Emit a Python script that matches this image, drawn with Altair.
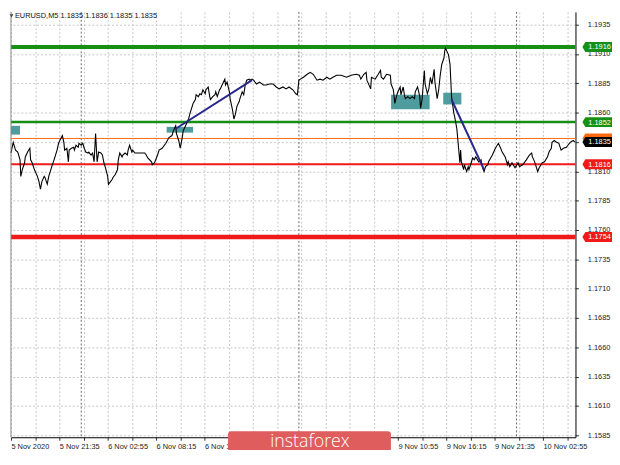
import altair as alt
import pandas as pd

W, H = 572, 431
FONT = "Liberation Sans"

# EURUSD M5 close, bar index counted from 5 Nov 2020 16:15
bars = [
    0, 3, 5, 6, 9, 12, 13, 15, 18, 19,
    22, 25, 26, 28, 31, 35, 37, 39, 41, 44,
    45, 48, 50, 52, 54, 57, 61, 63, 66, 68,
    70, 71, 74, 76, 77, 80, 83, 84, 86, 89,
    90, 93, 95, 97, 99, 102, 103, 106, 108, 110,
    112, 114, 116, 119, 121, 123, 125, 128, 129, 132,
    134, 135, 138, 141, 142, 144, 147, 148, 151, 154,
    155, 157, 160, 161, 164, 168, 173, 177, 179, 181,
    186, 187, 190,
    194, 196, 200, 205, 209, 213, 215, 218, 219, 222,
    224, 226, 228, 231, 235, 237, 239, 241, 244, 245,
    248, 250, 252, 254, 257, 258, 261, 263, 264, 267,
    270, 271, 273, 276, 277, 280, 283, 284, 286, 289,
    290, 293, 295, 297, 299, 302, 303, 306, 308, 310,
    312, 315, 316, 319, 321, 325, 329, 334, 338, 342,
    347, 351, 355, 360, 364, 368, 373, 377, 379, 381,
    383, 387, 392, 396, 400, 405, 409, 413, 418, 422,
    426, 431, 437, 444, 450, 457, 461, 463, 467, 470,
    471, 476, 477, 482, 486, 489, 490, 493, 497, 502,
    503, 506, 508, 510, 512, 515, 516, 519, 521, 522,
    525, 528, 531, 534, 535, 538, 541, 542, 544, 547,
    548, 551, 553, 555, 557, 560, 561, 564, 566, 568,
    570, 573, 574,
    575, 579, 581, 582, 583, 586, 587, 590, 592, 594,
    595, 596, 599, 600, 603, 605, 606, 609, 611, 613,
    615, 619, 622, 624, 626, 628, 631, 632, 637, 641,
    645, 648, 650, 654, 657, 658, 660, 663, 667, 671,
    673, 677, 682, 686, 689, 690, 693, 697, 699, 703,
    706, 710, 712, 715, 716, 719, 722, 725, 728, 731,
    735, 737, 740, 744, 746,
]
prices = [
    1.18256, 1.18347, 1.18305, 1.18281, 1.18264, 1.18198, 1.18057, 1.18115, 1.18173, 1.18223,
    1.18264, 1.18297, 1.18198, 1.18173, 1.18115, 1.18057, 1.18015, 1.17949, 1.18015, 1.18057,
    1.18048, 1.17990, 1.18057, 1.18098, 1.18140, 1.18198, 1.18281, 1.18339, 1.18380, 1.18405,
    1.18347, 1.18281, 1.18297, 1.18181, 1.18281, 1.18297, 1.18305, 1.18281, 1.18322, 1.18305,
    1.18339, 1.18322, 1.18339, 1.18297, 1.18264, 1.18256, 1.18264, 1.18239, 1.18256, 1.18181,
    1.18422, 1.18181, 1.18264, 1.18256, 1.18239, 1.18173, 1.18131, 1.18057, 1.17990, 1.18015,
    1.18032, 1.18048, 1.18073, 1.18115, 1.18198, 1.18256, 1.18223, 1.18239, 1.18256, 1.18239,
    1.18281, 1.18322, 1.18264, 1.18281, 1.18256, 1.18256, 1.18256, 1.18256, 1.18239, 1.18214,
    1.18181, 1.18156, 1.18173,
    1.18239, 1.18281, 1.18297, 1.18339, 1.18388, 1.18405, 1.18446, 1.18488, 1.18422, 1.18363,
    1.18297, 1.18363, 1.18446, 1.18488, 1.18546, 1.18596, 1.18637, 1.18679, 1.18712, 1.18753,
    1.18737, 1.18761, 1.18753, 1.18795, 1.18761, 1.18795, 1.18819, 1.18737, 1.18712, 1.18737,
    1.18753, 1.18778, 1.18737, 1.18795, 1.18803, 1.18844, 1.18886, 1.18836, 1.18861, 1.18778,
    1.18720, 1.18629, 1.18546, 1.18587, 1.18654, 1.18695, 1.18720, 1.18778, 1.18753, 1.18836,
    1.18877, 1.18886, 1.18877, 1.18886, 1.18877, 1.18844, 1.18861, 1.18836, 1.18836, 1.18844,
    1.18844, 1.18819, 1.18803, 1.18819, 1.18803, 1.18819, 1.18795, 1.18761, 1.18753, 1.18877,
    1.18886, 1.18902, 1.18927, 1.18944, 1.18927, 1.18877, 1.18886, 1.18877, 1.18902, 1.18886,
    1.18902, 1.18919, 1.18919, 1.18902, 1.18919, 1.18927, 1.18919, 1.18886, 1.18927, 1.18944,
    1.18877, 1.18803, 1.18902, 1.18886, 1.18927, 1.18960, 1.18902, 1.18886, 1.18927, 1.18919,
    1.18844, 1.18795, 1.18679, 1.18737, 1.18778, 1.18819, 1.18753, 1.18819, 1.18737, 1.18720,
    1.18737, 1.18720, 1.18737, 1.18720, 1.18778, 1.18819, 1.18737, 1.18637, 1.18712, 1.18960,
    1.18844, 1.18761, 1.18803, 1.18902, 1.18844, 1.18969, 1.18861, 1.18720, 1.18795, 1.18919,
    1.19010, 1.19068, 1.19126,
    1.19151, 1.19093, 1.19010, 1.18877, 1.18737, 1.18596, 1.18571, 1.18463, 1.18322, 1.18173,
    1.18281, 1.18181, 1.18115, 1.18156, 1.18098, 1.18140, 1.18115, 1.18173, 1.18214, 1.18198,
    1.18223, 1.18181, 1.18198, 1.18131, 1.18098, 1.18140, 1.18156, 1.18181, 1.18239, 1.18297,
    1.18339, 1.18297, 1.18264, 1.18223, 1.18156, 1.18181, 1.18140, 1.18173, 1.18131, 1.18173,
    1.18140, 1.18156, 1.18198, 1.18239, 1.18256, 1.18223, 1.18181, 1.18098, 1.18131, 1.18173,
    1.18181, 1.18223, 1.18264, 1.18297, 1.18347, 1.18363, 1.18347, 1.18339, 1.18281, 1.18297,
    1.18305, 1.18322, 1.18347, 1.18363, 1.18350,
]

y_ticks = [1.1585, 1.1610, 1.1635, 1.1660, 1.1685, 1.1710, 1.1735, 1.1760,
           1.1785, 1.1810, 1.1835, 1.1860, 1.1885, 1.1910, 1.1935]
# labels every 64 bars; the three hidden under the watermark are left blank
x_tick_labels = ["5 Nov 2020", "5 Nov 21:35", "6 Nov 02:55", "6 Nov 08:15",
                 "6 Nov 13:35", "", "", "",
                 "9 Nov 10:55", "9 Nov 16:15", "9 Nov 21:35", "10 Nov 02:55"]
grid_bars = [0, 32, 64, 96, 128, 160, 192, 224, 256, 288, 320, 352, 384, 416,
             448, 480, 512, 544, 576, 608, 640, 672, 704, 736]
day_breaks = [93, 381, 669]

level_prices = [1.1916, 1.1852, 1.1838, 1.1816, 1.1754]
level_colors = ["#159015", "#159015", "#ff6a10", "#f01a1a", "#f01a1a"]
level_widths = [4, 2.5, 1, 2, 4.5]

tag_prices = [1.1916, 1.1852, 1.1838, 1.1835, 1.1816, 1.1754]
tag_texts = ["1.1916", "1.1852", "", "1.1835", "1.1816", "1.1754"]
tag_colors = ["#159015", "#159015", "#ff6a10", "#000000", "#f01a1a", "#f01a1a"]

box_start = [0, 206, 503, 572]
box_end = [12, 241, 554, 596]
box_top = [1.18488, 1.18479, 1.18753, 1.18770]
box_bottom = [1.18413, 1.18430, 1.18629, 1.18670]

trend_id = [0, 0, 1, 1]
trend_bars = [218, 319, 583, 626]
trend_prices = [1.18463, 1.18877, 1.18712, 1.18115]

header_text = "EURUSD,M5  1.1835 1.1836 1.1835 1.1835"
logo_text = "instaforex"

xs = alt.Scale(domain=[0, 747], nice=False, zero=False)
ys = alt.Scale(domain=[1.15833, 1.19459], nice=False, zero=False)

js_labels = "[" + ",".join("'" + s + "'" for s in x_tick_labels) + "]"
x_axis = alt.Axis(
    values=grid_bars,
    labelExpr=f"datum.value % 64 == 0 ? {js_labels}[datum.value / 64] : ''",
    grid=True, gridColor="#c6c6c6", gridDash=[2, 2], gridWidth=1,
    domainColor="#000", domainWidth=1, tickColor="#333", tickSize=3,
    labelFont=FONT, labelFontSize=7.5, labelColor="#222", labelAlign="left",
    labelPadding=2, labelFlush=False, labelOverlap=False, labelBound=False,
    title=None,
)
y_axis = alt.Axis(
    orient="right", values=y_ticks, format=".4f",
    grid=True, gridColor="#c6c6c6", gridDash=[2, 2], gridWidth=1,
    domainColor="#000", domainWidth=1, tickColor="#333", tickSize=3,
    labelFont=FONT, labelFontSize=7.5, labelColor="#222", labelPadding=9,
    labelFlush=False, labelOverlap=False, title=None,
)

X = lambda f: alt.X(f, scale=xs, axis=x_axis)
Y = lambda f: alt.Y(f, scale=ys, axis=y_axis)

price_df = pd.DataFrame({"bar": bars, "price": prices})
line = alt.Chart(price_df).mark_line(color="#000", strokeWidth=1.1).encode(
    x=X("bar:Q"), y=Y("price:Q"),
)

box_df = pd.DataFrame({"bar": box_start, "bar2": box_end,
                       "price": box_top, "price2": box_bottom})
boxes = alt.Chart(box_df).mark_rect(color="#4f9c9e", opacity=1).encode(
    x=X("bar:Q"), x2="bar2:Q", y=Y("price:Q"), y2="price2:Q",
)

day_df = pd.DataFrame({"bar": day_breaks})
days = alt.Chart(day_df).mark_rule(color="#6a6a6a", strokeDash=[2, 2], strokeWidth=1).encode(
    x=X("bar:Q"),
)

level_layers = []
for p, c, w in zip(level_prices, level_colors, level_widths):
    level_layers.append(
        alt.Chart(pd.DataFrame({"price": [p]})).mark_rule(color=c, strokeWidth=w).encode(
            y=Y("price:Q")
        )
    )

trend_df = pd.DataFrame({"id": trend_id, "bar": trend_bars, "price": trend_prices})
trends = alt.Chart(trend_df).mark_line(color="#27278c", strokeWidth=2).encode(
    x=X("bar:Q"), y=Y("price:Q"), detail="id:N",
)

TAG_PATH = "M-1.22,0L-1,-0.37L1,-0.37L1,0.37L-1,0.37Z"
tag_df = pd.DataFrame({"price": tag_prices, "label": tag_texts, "col": tag_colors})
tags = alt.Chart(tag_df).mark_point(
    shape=TAG_PATH, size=729, filled=True, opacity=1, strokeWidth=0
).encode(
    x=alt.value(W + 23.5),
    y=Y("price:Q"),
    color=alt.Color("col:N", scale=None),
)
tag_text = alt.Chart(tag_df).mark_text(
    align="left", baseline="middle", color="white", font=FONT, fontSize=7.5, dy=0.5
).encode(
    x=alt.value(W + 13),
    y=Y("price:Q"),
    text="label:N",
)

one = pd.DataFrame({"t": [header_text], "logo": [logo_text]})
header = alt.Chart(one).mark_text(
    align="left", baseline="middle", font=FONT, fontSize=7.5, color="#111"
).encode(x=alt.value(4), y=alt.value(4), text="t:N")
tri = alt.Chart(one).mark_point(
    shape="triangle-down", size=14, filled=True, opacity=1, color="#222"
).encode(x=alt.value(0.5), y=alt.value(4))
left_border = alt.Chart(one).mark_rule(color="#8a8a8a", strokeWidth=1).encode(
    x=alt.value(0), y=alt.value(0), y2=alt.value(H)
)
logo_box = alt.Chart(one).mark_rect(
    color="#e05d5d", cornerRadiusTopLeft=3, cornerRadiusTopRight=3
).encode(x=alt.value(220), x2=alt.value(385), y=alt.value(425), y2=alt.value(444))
logo = alt.Chart(one).mark_text(
    align="center", baseline="alphabetic", font="Open Sans", fontWeight=300,
    fontSize=18, color="white"
).encode(x=alt.value(303), y=alt.value(441), text="logo:N")

chart = alt.layer(
    boxes, days, *level_layers, line, trends, tags, tag_text,
    header, tri, left_border, logo_box, logo,
).properties(
    width=W, height=H, padding=0, background="white"
).configure_view(stroke=None)

chart.save("out.html", embed_options={"renderer": "svg", "actions": False})
